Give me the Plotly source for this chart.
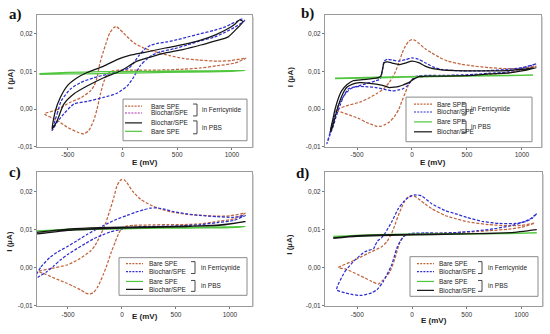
import plotly.graph_objects as go

W, H = 550, 334

# ---------------- DATA ----------------
# Panel a
a_bare_fc_E = [-714, -600, -476, -380, -293, -260, -233, -210, -179, -150, -117, -80, -59, -30, 11, 103, 194, 286, 430, 560, 700, 870, 1000, 1130,
               1025, 870, 716, 560, 407, 250, 99, -30, -90, -120, -141, -172, -202, -233, -263, -309, -354, -415, -507, -598, -714]
a_bare_fc_I = [-0.0013, -0.0002, 0.0018, 0.003, 0.0048, 0.0062, 0.0083, 0.0118, 0.0149, 0.0175, 0.0202, 0.0216, 0.0219, 0.0213, 0.0201, 0.0176, 0.0162, 0.0153, 0.0142, 0.0134, 0.013, 0.0127, 0.0129, 0.0135,
               0.0122, 0.0115, 0.0109, 0.0106, 0.0104, 0.0103, 0.0103, 0.0103, 0.0101, 0.0097, 0.0091, 0.0072, 0.004, 0.0, -0.003, -0.0057, -0.0066, -0.0061, -0.0048, -0.003, -0.0013]
a_bio_fc_E = [-644, -598, -560, -476, -385, -263, -141, -19, 60, 100, 150, 200, 255, 330, 407, 500, 592, 700, 839, 940, 994, 1050, 1086, 1117,
              1025, 940, 839, 700, 592, 470, 346, 270, 222, 164, 103, 42, -50, -172, -324, -446, -537, -598, -644]
a_bio_fc_I = [-0.0057, -0.0013, 0.0022, 0.0053, 0.007, 0.0083, 0.0092, 0.0101, 0.0109, 0.0122, 0.0142, 0.0158, 0.0169, 0.0175, 0.0178, 0.0184, 0.0191, 0.0199, 0.0209, 0.0218, 0.0226, 0.0233, 0.0239, 0.0235,
              0.0217, 0.0204, 0.0191, 0.018, 0.017, 0.016, 0.0152, 0.0143, 0.0132, 0.0116, 0.0085, 0.0061, 0.0042, 0.0031, 0.002, 0.0013, -0.0013, -0.0035, -0.0057]
a_bio_pbs_E = [-644, -613, -568, -507, -415, -324, -172, -50, 72, 194, 392, 550, 716, 850, 963, 1030, 1071, 1102,
               1040, 963, 850, 716, 550, 392, 255, 133, -19, -172, -324, -446, -537, -598, -644]
a_bio_pbs_I = [-0.0053, -0.0004, 0.0031, 0.0061, 0.0083, 0.0097, 0.0114, 0.0131, 0.0143, 0.0150, 0.0162, 0.0171, 0.0183, 0.0197, 0.0213, 0.0226, 0.0237, 0.0232,
               0.0212, 0.0191, 0.0181, 0.017, 0.0158, 0.0149, 0.0138, 0.0127, 0.0101, 0.0083, 0.0061, 0.004, 0.0013, -0.0031, -0.0053]
a_bare_pbs_E = [-760, -500, -200, 200, 600, 1000, 1120, 1000, 600, 200, -200, -500, -760]
a_bare_pbs_I = [0.0094, 0.0097, 0.0099, 0.0100, 0.0101, 0.0102, 0.0102, 0.0100, 0.0098, 0.0096, 0.0094, 0.0093, 0.0092]

# Panel b
b_bare_fc_E = [-690, -600, -476, -400, -327, -260, -208, -160, -119, -90, -60, -30, 0, 30, 60, 120, 179, 250, 327, 450, 565, 700, 863, 1000, 1131, 1000, 863, 700, 550, 417, 250, 119, 50, 0, -30, -60, -90, -119, -160, -208, -250, -283, -320, -357, -420, -476, -550, -625, -690]
b_bare_fc_I = [-0.0003, 0.0008, 0.0018, 0.0028, 0.004, 0.0053, 0.007, 0.0093, 0.0123, 0.0148, 0.0167, 0.018, 0.0184, 0.0182, 0.0175, 0.016, 0.0149, 0.0137, 0.0127, 0.0119, 0.0114, 0.011, 0.0107, 0.0108, 0.0114, 0.0103, 0.0096, 0.0092, 0.0089, 0.0088, 0.0087, 0.0086, 0.0084, 0.0079, 0.0065, 0.0044, 0.0022, 0.0, -0.002, -0.0035, -0.0042, -0.0046, -0.0046, -0.0042, -0.0035, -0.0026, -0.0018, -0.001, -0.0003]
b_bio_fc_E = [-774, -750, -729, -700, -670, -630, -595, -550, -506, -420, -327, -300, -283, -268, -253, -223, -180, -119, -60, 0, 60, 119, 190, 268, 400, 565, 700, 863, 1000, 1131,
              1000, 863, 700, 565, 400, 250, 119, 60, 30, 0, -40, -89, -130, -179, -250, -327, -400, -476, -530, -580, -620, -655, -690, -714, -745, -774]
b_bio_fc_I = [-0.0092, -0.0068, -0.0044, -0.0015, 0.0009, 0.003, 0.0044, 0.0055, 0.006, 0.0067, 0.0075, 0.0078, 0.0083, 0.0105, 0.0127, 0.0132, 0.013, 0.0127, 0.0131, 0.0136, 0.0132, 0.0123, 0.0112, 0.0105, 0.0102, 0.0101, 0.0102, 0.0105, 0.011, 0.012,
              0.0108, 0.0098, 0.0095, 0.0092, 0.009, 0.0089, 0.0089, 0.0088, 0.0086, 0.0078, 0.0062, 0.0053, 0.005, 0.0048, 0.0052, 0.0057, 0.0059, 0.006, 0.0058, 0.0053, 0.0035, 0.0009, -0.002, -0.0044, -0.0068, -0.0092]
b_bare_pbs_E = [-700, -300, 200, 700, 1100, 700, 200, -300, -700]
b_bare_pbs_I = [0.0082, 0.0085, 0.0087, 0.0089, 0.0090, 0.0088, 0.0086, 0.0083, 0.0081]
b_bio_pbs_E = [-744, -720, -699, -670, -640, -590, -536, -450, -380, -327, -300, -283, -268, -253, -223, -180, -119, -60, 0, 60, 119, 190, 268, 400, 565, 700, 863, 1000, 1131,
               1000, 863, 700, 550, 400, 250, 119, 60, 20, -30, -80, -119, -160, -208, -260, -327, -400, -476, -540, -595, -630, -670, -700, -729, -744]
b_bio_pbs_I = [-0.0061, -0.0028, 0.0, 0.0028, 0.0048, 0.0065, 0.0075, 0.0078, 0.008, 0.0082, 0.0084, 0.0088, 0.0105, 0.0123, 0.0125, 0.0122, 0.0118, 0.0122, 0.0127, 0.0123, 0.0114, 0.0107, 0.0104, 0.0102, 0.0101, 0.0101, 0.0102, 0.0105, 0.011,
               0.0101, 0.0095, 0.0093, 0.0089, 0.0088, 0.0087, 0.0087, 0.0086, 0.008, 0.007, 0.0064, 0.006, 0.0058, 0.0057, 0.0062, 0.0066, 0.0069, 0.007, 0.0066, 0.0057, 0.004, 0.0009, -0.0022, -0.0053, -0.0061]

# Panel c
c_bare_fc_E = [-772, -650, -509, -400, -293, -250, -200, -150, -108, -75, -46, -20, 0, 20, 46, 100, 170, 260, 355, 450, 571, 700, 880, 1000, 1142, 1034, 900, 725, 571, 417, 250, 108, 40, 0, -30, -62, -100, -139, -170, -200, -230, -262, -285, -309, -340, -386, -450, -509, -580, -663, -720, -772]
c_bare_fc_I = [-0.001, -0.0002, 0.0007, 0.0022, 0.0043, 0.0058, 0.0085, 0.0118, 0.0154, 0.0185, 0.0215, 0.0228, 0.0232, 0.0231, 0.0223, 0.02, 0.018, 0.0165, 0.0154, 0.0147, 0.0141, 0.0138, 0.0135, 0.0136, 0.0143, 0.0128, 0.0122, 0.0115, 0.0113, 0.0113, 0.0112, 0.0111, 0.0109, 0.0104, 0.009, 0.0068, 0.004, 0.0007, -0.0016, -0.0036, -0.0053, -0.0065, -0.0068, -0.0069, -0.0066, -0.0058, -0.0049, -0.0041, -0.0033, -0.0023, -0.0016, -0.001]
c_bio_fc_E = [-818, -750, -663, -590, -509, -420, -324, -230, -139, -50, 46, 120, 201, 260, 324, 400, 478, 600, 725, 880, 1034, 1142,
              1034, 880, 725, 571, 417, 250, 108, 0, -108, -180, -262, -340, -417, -500, -571, -630, -694, -760, -818]
c_bio_fc_I = [-0.0032, 0.0002, 0.0028, 0.0042, 0.0055, 0.007, 0.0087, 0.0102, 0.0115, 0.0127, 0.0137, 0.0145, 0.0152, 0.0156, 0.0157, 0.0153, 0.0147, 0.0141, 0.0137, 0.0134, 0.0132, 0.0137,
              0.0124, 0.0118, 0.0113, 0.011, 0.0109, 0.0108, 0.0106, 0.0101, 0.0094, 0.0086, 0.0076, 0.0063, 0.005, 0.0035, 0.002, 0.0005, -0.001, -0.0022, -0.0032]
c_bare_pbs_E = [-802, -500, -200, 200, 600, 1000, 1142, 1000, 600, 200, -200, -500, -802]
c_bare_pbs_I = [0.0096, 0.0101, 0.0103, 0.0105, 0.0106, 0.0107, 0.0108, 0.0105, 0.0104, 0.0103, 0.0101, 0.0099, 0.0096]
c_bio_pbs_E = [-802, -500, -200, 200, 600, 900, 1142, 900, 600, 200, -200, -500, -802]
c_bio_pbs_I = [0.0092, 0.0101, 0.0105, 0.0107, 0.0109, 0.0111, 0.0121, 0.0112, 0.0108, 0.0105, 0.0102, 0.0098, 0.0088]

# Panel d
d_bare_fc_E = [-673, -551, -399, -277, -230, -186, -155, -125, -95, -64, -30, -9, 20, 58, 120, 180, 302, 393, 515, 700, 879, 1000, 1121,
               1000, 879, 700, 550, 400, 250, 91, 0, -64, -109, -155, -201, -262, -307, -368, -430, -490, -612, -673]
d_bare_fc_I = [0.0, 0.0016, 0.0038, 0.0055, 0.0068, 0.009, 0.0113, 0.0137, 0.0158, 0.0176, 0.0186, 0.0189, 0.0188, 0.0181, 0.0167, 0.0155, 0.0137, 0.0129, 0.012, 0.0113, 0.011, 0.0111, 0.0117,
               0.0106, 0.0101, 0.0097, 0.0094, 0.0092, 0.009, 0.0088, 0.0087, 0.0085, 0.0068, 0.0025, -0.001, -0.0032, -0.0043, -0.0036, -0.0027, -0.0019, -0.0003, 0.0]
d_bio_fc_E = [-688, -612, -521, -429, -350, -338, -318, -308, -280, -247, -186, -125, -80, -49, 0, 28, 89, 180, 302, 393, 500, 650, 800, 950, 1040, 1100, 1140,
              1080, 1000, 900, 750, 600, 450, 300, 119, -3, -40, -79, -110, -140, -186, -262, -320, -368, -460, -540, -612, -688]
d_bio_fc_I = [-0.0058, -0.001, 0.002, 0.0042, 0.005, 0.0058, 0.0068, 0.0072, 0.0078, 0.009, 0.012, 0.0155, 0.0172, 0.0181, 0.0189, 0.0191, 0.0188, 0.0168, 0.015, 0.0142, 0.0132, 0.0121, 0.0116, 0.0116, 0.0121, 0.013, 0.0142,
              0.0128, 0.0118, 0.011, 0.0102, 0.0097, 0.0093, 0.0091, 0.0091, 0.009, 0.0087, 0.0081, 0.0068, 0.005, 0.0007, -0.0036, -0.0058, -0.0066, -0.0073, -0.0071, -0.0066, -0.0058]
d_bare_pbs_E = [-720, -400, 0, 400, 800, 1140, 800, 400, 0, -400, -720]
d_bare_pbs_I = [0.0082, 0.0086, 0.0088, 0.0089, 0.0090, 0.0091, 0.0089, 0.0088, 0.0087, 0.0084, 0.0081]
d_bio_pbs_E = [-720, -500, -200, 200, 600, 900, 1140, 900, 600, 200, -200, -500, -720]
d_bio_pbs_I = [0.0078, 0.0084, 0.0087, 0.0088, 0.0089, 0.0092, 0.0100, 0.0092, 0.0089, 0.0087, 0.0085, 0.0082, 0.0077]

# tick labels
x_tickvals = [-500, 0, 500, 1000]
x_ticktext = ["-500", "0", "500", "1000"]
y_tickvals = [-0.01, 0.0, 0.01, 0.02]
y_ticktext = ["-0,01", "0,00", "0,01", "0,02"]

panel_letters = ["a)", "b)", "c)", "d)"]
legend_labels = {
    "a": ["Bare SPE", "Biochar/SPE", "Biochar/SPE", "Bare SPE"],
    "b": ["Bare SPE", "Biochar/SPE", "Bare SPE", "Biochar/SPE"],
    "c": ["Bare SPE", "Biochar/SPE", "Bare SPE", "Biochar/SPE"],
    "d": ["Bare SPE", "Biochar/SPE", "Bare SPE", "Biochar/SPE"],
}
group_labels = ["in Ferricynide", "in PBS"]

# ---------------- STYLE ----------------
BROWN = "#c1653f"
BLUE = "#2f2fd0"
PURPLE = "#b030b0"
GREEN = "#4fc63c"
BLACK = "#151515"
DASH = "3px,1.6px"
FONT = "Liberation Sans"

styles = {
    "bare_fc": dict(color=BROWN, dash=DASH),
    "bio_fc": dict(color=BLUE, dash=DASH),
    "bio_fc_leg_a": dict(color=PURPLE, dash=DASH),
    "bare_pbs": dict(color=GREEN, dash="solid"),
    "bio_pbs": dict(color=BLACK, dash="solid"),
}

fig = go.Figure()

def P(x, y):
    return x / W, 1 - y / H

panels = {
    "a": dict(box=(37, 15, 252, 148), xr=[-782, 1184], ax=""),
    "b": dict(box=(325, 15, 541, 148), xr=[-791, 1173], ax="2"),
    "c": dict(box=(37, 174, 252, 308.5), xr=[-787, 1204], ax="3"),
    "d": dict(box=(325, 174, 542, 308.5), xr=[-795, 1188], ax="4"),
}

series = {
    "a": [("bare_fc", a_bare_fc_E, a_bare_fc_I), ("bio_fc", a_bio_fc_E, a_bio_fc_I),
          ("bare_pbs", a_bare_pbs_E, a_bare_pbs_I), ("bio_pbs", a_bio_pbs_E, a_bio_pbs_I)],
    "b": [("bare_fc", b_bare_fc_E, b_bare_fc_I), ("bio_fc", b_bio_fc_E, b_bio_fc_I),
          ("bare_pbs", b_bare_pbs_E, b_bare_pbs_I), ("bio_pbs", b_bio_pbs_E, b_bio_pbs_I)],
    "c": [("bare_fc", c_bare_fc_E, c_bare_fc_I), ("bio_fc", c_bio_fc_E, c_bio_fc_I),
          ("bare_pbs", c_bare_pbs_E, c_bare_pbs_I), ("bio_pbs", c_bio_pbs_E, c_bio_pbs_I)],
    "d": [("bare_fc", d_bare_fc_E, d_bare_fc_I), ("bio_fc", d_bio_fc_E, d_bio_fc_I),
          ("bare_pbs", d_bare_pbs_E, d_bare_pbs_I), ("bio_pbs", d_bio_pbs_E, d_bio_pbs_I)],
}

legend_styles = {
    "a": ["bare_fc", "bio_fc_leg_a", "bio_pbs", "bare_pbs"],
    "b": ["bare_fc", "bio_fc", "bare_pbs", "bio_pbs"],
    "c": ["bare_fc", "bio_fc", "bare_pbs", "bio_pbs"],
    "d": ["bare_fc", "bio_fc", "bare_pbs", "bio_pbs"],
}

legend_geo = {
    "a": dict(box=(123, 100, 247, 142), rows=[107, 114, 124, 132.5], lx=(125, 142), tx=149, bx=197, gtx=200,
              br=[(105, 117), (122, 135)]),
    "b": dict(box=(406, 98, 532, 143), rows=[105, 113, 123, 133], lx=(414, 432), tx=435, bx=466, gtx=469,
              br=[(104, 116), (122, 134)]),
    "c": dict(box=(119, 260, 247, 298), rows=[266, 274, 284, 292], lx=(126, 143), tx=147, bx=195, gtx=199,
              br=[(264, 276), (283, 294)]),
    "d": dict(box=(410, 259, 538, 299), rows=[266, 274, 284, 293], lx=(417, 434), tx=437, bx=482, gtx=486,
              br=[(264, 276), (283, 294)]),
}

axis_title_pos = {
    "a": dict(ex=144.5, ey=164, ix=10, iy=80),
    "b": dict(ex=433, ey=164, ix=290, iy=78),
    "c": dict(ex=144.5, ey=319, ix=10, iy=244),
    "d": dict(ex=433.5, ey=323, ix=290, iy=247),
}
letter_pos = {"a": (15, 15), "b": (307, 14), "c": (15, 174), "d": (302, 175)}

shapes = []
annotations = []
layout_axes = {}

for i, key in enumerate(["a", "b", "c", "d"]):
    pg = panels[key]
    l, t, r, b = pg["box"]
    ax = pg["ax"]
    layout_axes["xaxis" + ax] = dict(
        domain=[l / W, r / W], range=pg["xr"], anchor="y" + ax,
        showgrid=False, zeroline=False, showline=True, mirror=True,
        linecolor="#9a9a9a", linewidth=1,
        ticks="outside", ticklen=2, tickcolor="#777", tickwidth=1,
        tickvals=x_tickvals, ticktext=x_ticktext,
        tickfont=dict(family=FONT, size=6.5, color="#333"),
    )
    layout_axes["yaxis" + ax] = dict(
        domain=[1 - b / H, 1 - t / H], range=[-0.01, 0.025], anchor="x" + ax,
        showgrid=False, zeroline=False, showline=True, mirror=True,
        linecolor="#9a9a9a", linewidth=1,
        ticks="outside", ticklen=2, tickcolor="#777", tickwidth=1,
        tickvals=y_tickvals, ticktext=y_ticktext,
        tickfont=dict(family=FONT, size=6.5, color="#333"),
    )
    shapes.append(dict(type="line", xref="paper", yref="paper",
                       x0=(r + 1.2) / W, x1=(r + 1.2) / W, y0=1 - (b + 1) / H, y1=1 - (t + 2) / H,
                       line=dict(color="#c8c8c8", width=1.2)))
    for sk, E, I in series[key]:
        st = styles[sk]
        fig.add_trace(go.Scatter(
            x=E, y=I, mode="lines", xaxis="x" + ax, yaxis="y" + ax,
            line=dict(color=st["color"], dash=st["dash"], width=1.25, shape="spline", smoothing=0.6),
            hoverinfo="skip", showlegend=False))

    lg = legend_geo[key]
    bl, bt, br_, bb = lg["box"]
    x0, y0 = P(bl, bb)
    x1, y1 = P(br_, bt)
    shapes.append(dict(type="rect", xref="paper", yref="paper", x0=x0, y0=y0, x1=x1, y1=y1,
                       line=dict(color="#8a8a8a", width=1), fillcolor="white", layer="above"))
    for j, (lab, sk) in enumerate(zip(legend_labels[key], legend_styles[key])):
        st = styles[sk]
        ry = lg["rows"][j]
        shapes.append(dict(type="line", xref="paper", yref="paper",
                           x0=lg["lx"][0] / W, x1=lg["lx"][1] / W, y0=1 - ry / H, y1=1 - ry / H,
                           line=dict(color=st["color"], dash="2px,1.2px" if st["dash"] != "solid" else "solid",
                                     width=1.2), layer="above"))
        annotations.append(dict(x=lg["tx"] / W, y=1 - ry / H, xref="paper", yref="paper",
                                text=lab, showarrow=False, xanchor="left", yanchor="middle",
                                font=dict(family=FONT, size=6.5, color="#222")))
    for g, (ya0, ya1) in enumerate(lg["br"]):
        bx = lg["bx"]
        path = "M {a},{b} L {c},{b} L {c},{d} L {a},{d}".format(
            a=(bx - 4) / W, b=1 - ya0 / H, c=bx / W, d=1 - ya1 / H)
        shapes.append(dict(type="path", xref="paper", yref="paper", path=path,
                           line=dict(color="#333", width=0.9), layer="above"))
        annotations.append(dict(x=lg["gtx"] / W, y=1 - ((ya0 + ya1) / 2) / H, xref="paper", yref="paper",
                                text=group_labels[g], showarrow=False, xanchor="left", yanchor="middle",
                                font=dict(family=FONT, size=6.5, color="#222")))

    tp = axis_title_pos[key]
    annotations.append(dict(x=tp["ex"] / W, y=1 - tp["ey"] / H, xref="paper", yref="paper",
                            text="<b>E (mV)</b>", showarrow=False, xanchor="center", yanchor="middle",
                            font=dict(family=FONT, size=8, color="#222")))
    annotations.append(dict(x=tp["ix"] / W, y=1 - tp["iy"] / H, xref="paper", yref="paper",
                            text="<b>I (µA)</b>", showarrow=False, xanchor="center", yanchor="middle",
                            textangle=-90, font=dict(family=FONT, size=8, color="#222")))
    lx, ly = letter_pos[key]
    annotations.append(dict(x=lx / W, y=1 - ly / H, xref="paper", yref="paper",
                            text="<b>" + panel_letters[i] + "</b>", showarrow=False,
                            xanchor="center", yanchor="middle",
                            font=dict(family="Liberation Serif", size=15, color="#111")))

fig.update_layout(
    width=W, height=H, margin=dict(l=0, r=0, t=0, b=0),
    paper_bgcolor="white", plot_bgcolor="white", showlegend=False,
    shapes=shapes, annotations=annotations, **layout_axes,
)

fig.write_html("out.html", config={"displayModeBar": False},
               post_script="document.body.style.margin='0px';")
